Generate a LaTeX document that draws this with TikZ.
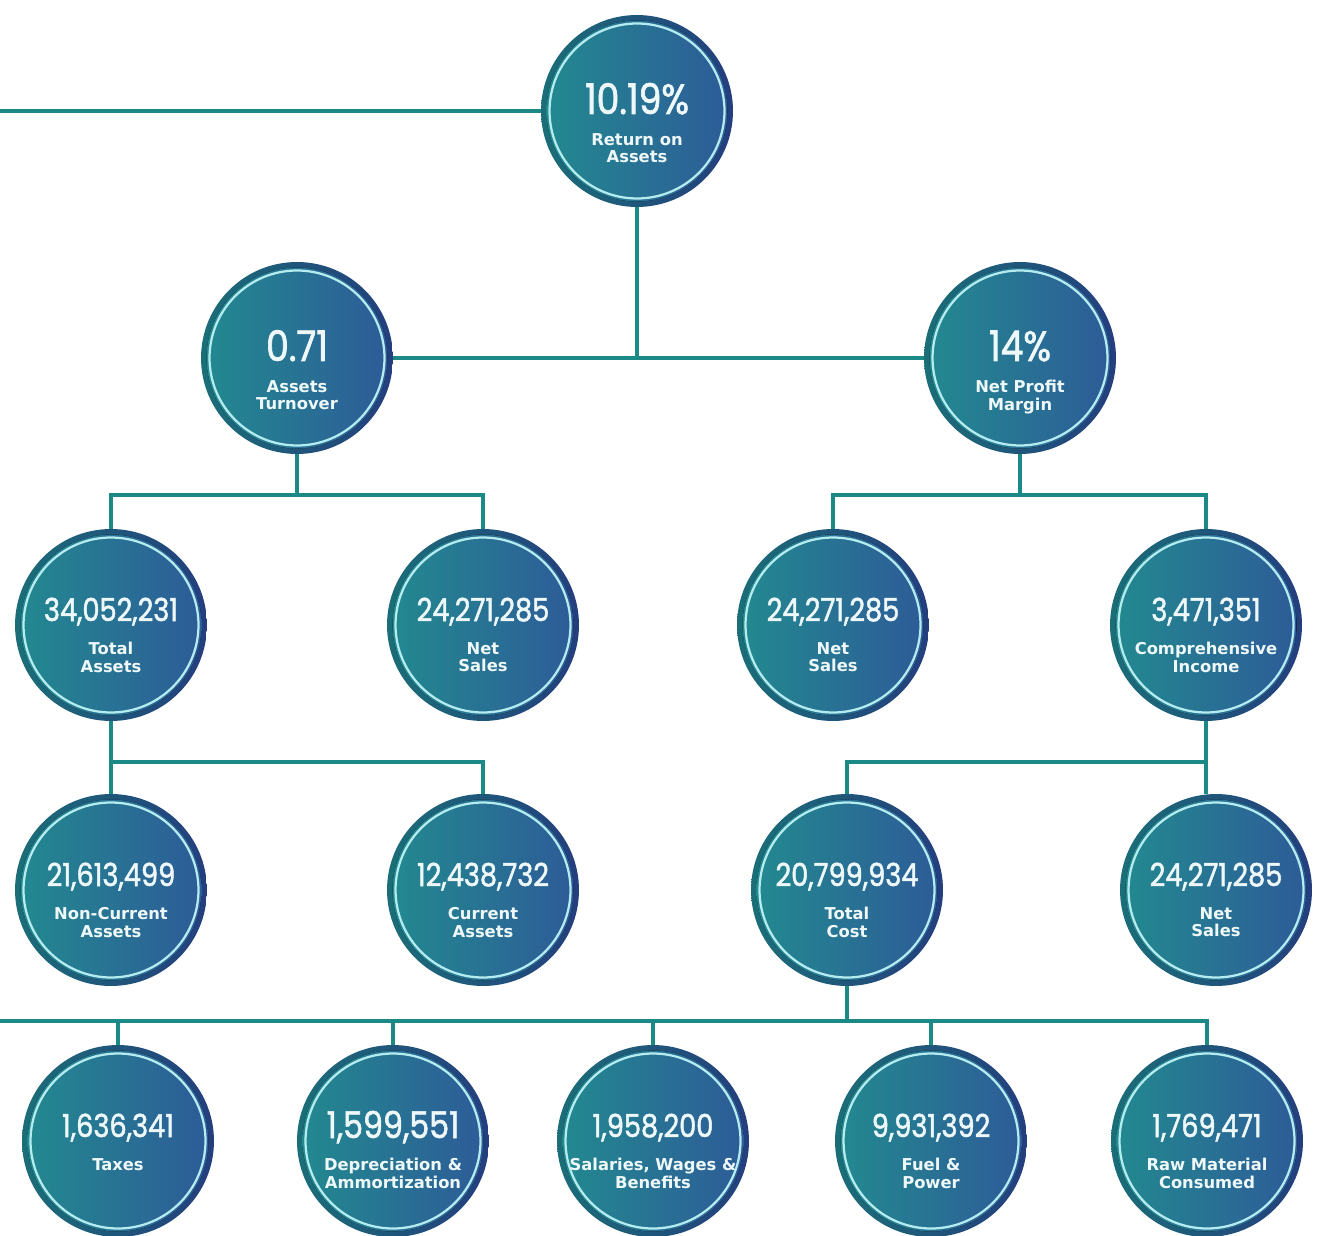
\documentclass[tikz,border=0pt]{standalone}
\usepackage{fontspec}
\usetikzlibrary{calc}
\newfontfamily\numfont[FakeStretch=0.86, FakeBold=1.6]{Poppins}
\newfontfamily\lblfont{DejaVu Sans}

\definecolor{ringL}{HTML}{1B6E78}
\definecolor{ringR}{HTML}{243E7E}
\definecolor{fillL}{HTML}{228A8F}
\definecolor{fillR}{HTML}{2E5A98}
\definecolor{glow}{HTML}{B4ECEF}
\definecolor{linkc}{HTML}{1B8A86}
\definecolor{txtc}{HTML}{EEF8F8}

\tikzset{
  disc/.style={circle, minimum size=3.84cm, inner sep=0pt, draw=none,
    left color=ringL, right color=ringR,
    path picture={
      \fill[left color=fillL, right color=fillR]
        (path picture bounding box.center) circle (1.81cm);
      \draw[glow, line width=0.045cm]
        (path picture bounding box.center) circle (1.75cm);
    }},
  link/.style={draw=linkc, line width=0.08cm},
  numtxt/.style={text=txtc, inner sep=0pt, anchor=base},
  lbltxt/.style={text=txtc, inner sep=0pt, anchor=north, align=center,
    font=\lblfont\bfseries\fontsize{9.3}{10}\selectfont},
}

% value and caption inside a ratio disc:
% name, value size, baseline offset, caption offset, value, caption
\newcommand\kpitext[6]{%
  \node[numtxt, font={\numfont\fontsize{#2}{#2}\selectfont}] (#1-num) at ($(#1)+(0,#3)$) {#5};
  \node[lbltxt] (#1-lbl) at ($(#1)+(0,#4)$) {#6};}
\newcommand\kpibig[3]{\kpitext{#1}{24}{3}{22}{#2}{#3}}
\newcommand\kpimid[3]{\kpitext{#1}{18}{-4}{17}{#2}{#3}}

\begin{document}
\begin{tikzpicture}[x=0.02cm, y=-0.02cm]
  \useasboundingbox (0,0) rectangle (1321,1236);
  \clip (0,0) rectangle (1321,1236);
  \fill[white] (0,0) rectangle (1321,1236);

  % discs
  \node[disc] (roa) at (637,111) {};
  \node[disc] (at)  at (297,358) {};
  \node[disc] (npm) at (1020,358) {};
  \node[disc] (ta)  at (111,625) {};
  \node[disc] (ns1) at (483,625) {};
  \node[disc] (ns2) at (833,625) {};
  \node[disc] (ci)  at (1206,625) {};
  \node[disc] (nca) at (111,890) {};
  \node[disc] (ca)  at (483,890) {};
  \node[disc] (tc)  at (847,890) {};
  \node[disc] (ns3) at (1216,890) {};
  \node[disc] (tax) at (118,1141) {};
  \node[disc] (dep) at (393,1141) {};
  \node[disc] (sal) at (653,1141) {};
  \node[disc] (fuel) at (931,1141) {};
  \node[disc] (raw) at (1207,1141) {};

  % junction points of the tree
  \coordinate (edgeA) at (0,111);
  \coordinate (j1) at (637,358);
  \coordinate (j2) at (297,495);
  \coordinate (j3) at (1020,495);
  \coordinate (j4) at (111,762);
  \coordinate (j5) at (1206,762);
  \coordinate (j6) at (847,1021);
  \coordinate (edgeB) at (0,1021);

  % connectors
  \draw[link] (roa.west) -- (edgeA);
  \draw[link] (roa.south) -- (j1);
  \draw[link] (at.east) -- (npm.west);
  \draw[link] (at.south) -- (j2);
  \draw[link] (ta.north) |- (j2) -| (ns1.north);
  \draw[link] (npm.south) -- (j3);
  \draw[link] (ns2.north) |- (j3) -| (ci.north);
  \draw[link] (ta.south) -- (nca.north);
  \draw[link] (j4) -| (ca.north);
  \draw[link] (ci.south) -- (ci.south |- ns3.north);
  \draw[link] (j5) -| (tc.north);
  \draw[link] (tc.south) -- (j6);
  \draw[link] (edgeB) -| (raw.north);
  \draw[link] (tax.north) -- (tax.north |- edgeB);
  \draw[link] (dep.north) -- (dep.north |- edgeB);
  \draw[link] (sal.north) -- (sal.north |- edgeB);
  \draw[link] (fuel.north) -- (fuel.north |- edgeB);

  % values and captions
  \kpibig{roa}{10.19\%}{Return on\\Assets}
  \kpibig{at}{0.71}{Assets\\Turnover}
  \kpibig{npm}{14\%}{Net Profit\\Margin}
  \kpimid{ta}{34,052,231}{Total\\Assets}
  \kpimid{ns1}{24,271,285}{Net\\Sales}
  \kpimid{ns2}{24,271,285}{Net\\Sales}
  \kpimid{ci}{3,471,351}{Comprehensive\\Income}
  \kpimid{nca}{21,613,499}{Non-Current\\Assets}
  \kpimid{ca}{12,438,732}{Current\\Assets}
  \kpimid{tc}{20,799,934}{Total\\Cost}
  \kpimid{ns3}{24,271,285}{Net\\Sales}
  \kpimid{tax}{1,636,341}{Taxes}
  \kpitext{dep}{21}{-3}{17}{1,599,551}{Depreciation \&\\Ammortization}
  \kpimid{sal}{1,958,200}{Salaries, Wages \&\\Benefits}
  \kpimid{fuel}{9,931,392}{Fuel \&\\Power}
  \kpimid{raw}{1,769,471}{Raw Material\\Consumed}
\end{tikzpicture}
\end{document}
